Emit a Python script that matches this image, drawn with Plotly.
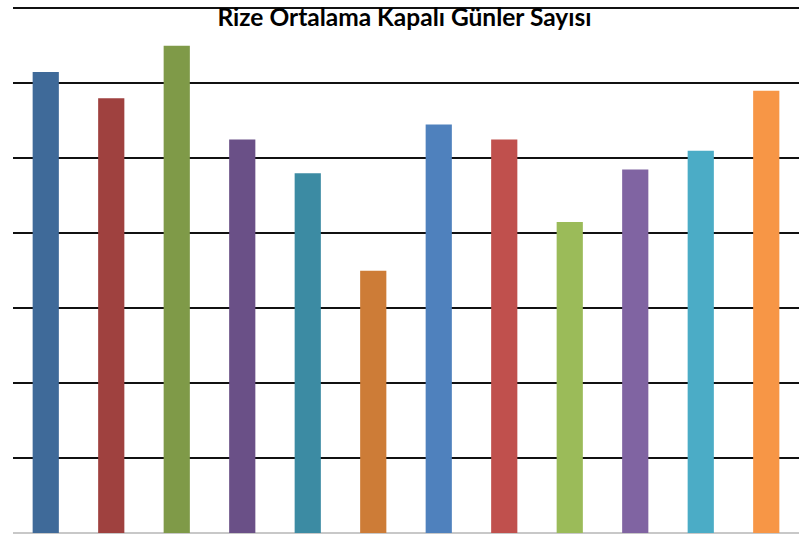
import plotly.graph_objects as go

months = ["Ocak", "Şubat", "Mart", "Nisan", "Mayıs", "Haziran",
          "Temmuz", "Ağustos", "Eylül", "Ekim", "Kasım", "Aralık"]
values = [12.3, 11.6, 13.0, 10.5, 9.6, 7.0, 10.9, 10.5, 8.3, 9.7, 10.2, 11.8]
colors = ["#3F6A99", "#9F413F", "#7F9A48", "#6A5087", "#3C8BA3", "#CD7C37",
          "#4F81BD", "#C0504D", "#9BBB59", "#8064A2", "#4BACC6", "#F79646"]
title = "Rize Ortalama Kapalı Günler Sayısı"

fig = go.Figure(go.Bar(x=months, y=values, marker=dict(color=colors, line=dict(width=0))))

fig.update_layout(
    width=812, height=534,
    margin=dict(l=13, r=13, t=6, b=1),
    paper_bgcolor="white", plot_bgcolor="white",
    bargap=0.6,
    showlegend=False,
    hovermode=False,
    title=dict(text="<b>" + title + "</b>", x=404.5 / 812, xanchor="center",
               y=1 - 17.5 / 534, yanchor="middle", yref="container",
               font=dict(family="Lato", size=24.5, color="black")),
    xaxis=dict(showticklabels=False, ticks="", showgrid=False, zeroline=False,
               showline=False),
    yaxis=dict(range=[0, 14.061], dtick=2, tick0=0, showticklabels=False, ticks="",
               showgrid=True, gridcolor="#111111", gridwidth=2,
               zeroline=True, zerolinecolor="#C8C8C8", zerolinewidth=2,
               showline=False),
)

# remove the browser's default body margin so the figure sits at the window origin
fig.write_html("out.html", config={"displayModeBar": False},
               post_script="document.body.style.margin='0';")
